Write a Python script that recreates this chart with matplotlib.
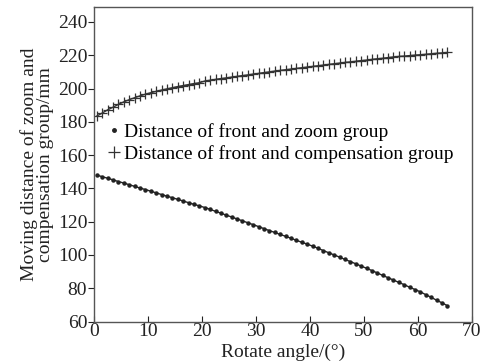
import numpy as np
import matplotlib.pyplot as plt
from matplotlib.lines import Line2D

plt.rcParams['font.family'] = ['Liberation Serif', 'DejaVu Serif']

angle = np.arange(0.5, 66, 1.0)

zoom_dist = [148.0, 147.0, 146.1, 145.1, 144.1, 143.2, 142.2, 141.2, 140.2, 139.3, 138.3,
             137.3, 136.3, 135.3, 134.4, 133.4, 132.4, 131.4, 130.4, 129.5, 128.5,
             127.4, 126.2, 125.1, 123.9, 122.8, 121.6, 120.5, 119.3, 118.2, 117.0,
             115.8, 114.6, 113.5, 112.3, 111.2, 110.0, 108.8, 107.6, 106.5, 105.3,
             104.0, 102.6, 101.3, 100.0, 98.7, 97.3, 96.0, 94.7, 93.3, 92.0,
             90.6, 89.2, 87.7, 86.3, 84.9, 83.5, 82.1, 80.6, 79.2, 77.8,
             76.1, 74.5, 72.8, 71.2, 69.5]

comp_dist = [183.5, 185.3, 187.2, 188.8, 190.5, 192.0, 193.3, 194.5, 195.6, 196.6, 197.5,
             198.3, 199.1, 199.8, 200.5, 201.2, 201.8, 202.4, 203.0, 203.5, 204.5,
             205.0, 205.5, 206.0, 206.4, 206.9, 207.3, 207.8, 208.2, 208.7, 209.1,
             209.6, 210.0, 210.5, 210.9, 211.3, 211.7, 212.1, 212.5, 212.9, 213.3,
             213.7, 214.1, 214.5, 214.9, 215.3, 215.7, 216.0, 216.4, 216.8, 217.1,
             217.5, 217.9, 218.2, 218.6, 219.0, 219.3, 219.5, 219.8, 220.1, 220.3,
             220.6, 220.9, 221.2, 221.4, 221.7]

fs = 14

fig = plt.figure(figsize=(4.83, 3.63), dpi=100)
ax = fig.add_axes([0.195, 0.1143, 0.7816, 0.8664])

ax.plot(angle, zoom_dist, color='#222222', lw=1.0, marker='o', ms=2.2)
ax.plot(angle, comp_dist, color='#333333', lw=1.0, marker='+', ms=7, mew=0.9)

ax.set_xlim(0, 70)
ax.set_ylim(60, 249)
ax.set_xticks(range(0, 71, 10))
ax.set_yticks(range(60, 241, 20))
ax.tick_params(axis='x', direction='in', length=4, labelsize=fs, colors='#222222', pad=1)
ax.tick_params(axis='y', direction='out', length=4, labelsize=fs, colors='#222222', pad=1)
for s in ax.spines.values():
    s.set_color('#555555')
    s.set_linewidth(1.0)

ax.set_xlabel("Rotate angle/(°)", fontsize=fs, color='#222222')
ax.xaxis.set_label_coords(0.5, -0.072, transform=ax.transAxes)
ax.set_ylabel("Moving distance of zoom and\ncompensation group/mm", fontsize=fs,
              labelpad=3, color='#222222', linespacing=0.9)

handles = [Line2D([], [], ls='none', marker='o', ms=2.5, color='#222222'),
           Line2D([], [], ls='none', marker='+', ms=8, mew=0.9, color='#333333')]
labels = ["Distance of front and zoom group",
          "Distance of front and compensation group"]
ax.legend(handles, labels, loc='upper left', bbox_to_anchor=(0.02, 0.655),
          frameon=False, fontsize=fs, handlelength=0.5, handletextpad=0.25,
          labelspacing=0.2, borderaxespad=0)

plt.savefig('out.png', dpi=100)
